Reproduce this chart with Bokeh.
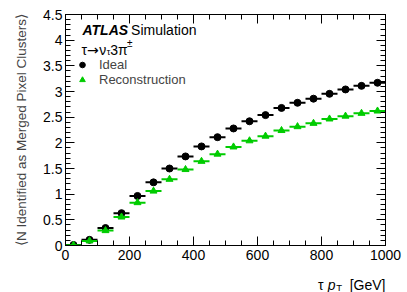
import numpy as np
from bokeh.plotting import figure
from bokeh.layouts import column
from bokeh.models import (Range1d, FixedTicker, LinearAxis, Label, Legend, LegendItem,
                          ColumnDataSource, CustomLabelingPolicy)
from bokeh.embed import file_html
from bokeh.resources import INLINE

# ---- data ----
pt_centers = [25, 75, 125, 175, 225, 275, 325, 375, 425, 475,
              525, 575, 625, 675, 725, 775, 825, 875, 925, 975]
bin_half_width = 25
ideal = [0.01, 0.11, 0.34, 0.63, 0.965, 1.23, 1.50, 1.735, 1.93, 2.11,
         2.28, 2.42, 2.54, 2.68, 2.78, 2.86, 2.955, 3.04, 3.11, 3.17]
reco = [0.005, 0.09, 0.29, 0.555, 0.835, 1.06, 1.29, 1.48, 1.64, 1.78,
        1.92, 2.04, 2.13, 2.24, 2.315, 2.38, 2.465, 2.52, 2.575, 2.62]
x_major = [0, 200, 400, 600, 800, 1000]
y_major = [0, 0.5, 1, 1.5, 2, 2.5, 3, 3.5, 4, 4.5]
y_labels = ["0", "0.5", "1", "1.5", "2", "2.5", "3", "3.5", "4", "4.5"]

FONT = "Liberation Sans"
GREEN = "#00cc00"

x = np.array(pt_centers, dtype=float)
src = ColumnDataSource(dict(x=x, lo=x - bin_half_width, hi=x + bin_half_width,
                            ideal=ideal, reco=reco))

xr = Range1d(0, 1000)
p = figure(width=407, height=268, output_backend="svg", toolbar_location=None,
           x_range=xr, y_range=Range1d(0, 4.5),
           min_border_left=65, min_border_right=20, min_border_top=14, min_border_bottom=23,
           x_axis_location=None, y_axis_location=None)
p.xgrid.visible = False
p.ygrid.visible = False
p.outline_line_color = "black"
p.outline_line_width = 1
p.background_fill_color = "white"
p.border_fill_color = "white"

x_minor = list(range(0, 1001, 50))
y_minor = [round(v * 0.1, 2) for v in range(0, 46)]
xt = FixedTicker(ticks=x_major, minor_ticks=x_minor)
yt = FixedTicker(ticks=y_major, minor_ticks=y_minor)


def style(ax, labels=True):
    ax.major_tick_in = 9
    ax.major_tick_out = 0
    ax.minor_tick_in = 5
    ax.minor_tick_out = 0
    ax.axis_line_color = "black"
    ax.major_tick_line_color = "black"
    ax.minor_tick_line_color = "black"
    ax.major_label_text_font = FONT
    ax.major_label_text_font_size = "14px"
    ax.major_label_text_color = "black"
    if not labels:
        ax.major_label_policy = CustomLabelingPolicy(code="return new Set()")
        ax.major_label_standoff = 0


xb = LinearAxis(ticker=xt)
style(xb)
xb.major_label_standoff = 4
p.add_layout(xb, "below")

xa = LinearAxis(ticker=xt)
style(xa, labels=False)
p.add_layout(xa, "above")

yl = LinearAxis(ticker=yt)
style(yl)
yl.major_label_standoff = 3
yl.major_label_overrides = {v: s for v, s in zip(y_major, y_labels)}
yl.axis_label = "\u27e8N Identified as Merged Pixel Clusters\u27e9"
yl.axis_label_text_font = FONT
yl.axis_label_text_font_size = "13.5px"
yl.axis_label_text_font_style = "normal"
yl.axis_label_standoff = 11
p.add_layout(yl, "left")

yr = LinearAxis(ticker=yt)
style(yr, labels=False)
p.add_layout(yr, "right")

# ---- data marks ----
p.segment(x0="lo", x1="hi", y0="ideal", y1="ideal", source=src,
          line_color="black", line_width=2)
r_ideal = p.scatter(x="x", y="ideal", source=src, marker="circle", size=7,
                    fill_color="black", line_color="black")
p.segment(x0="lo", x1="hi", y0="reco", y1="reco", source=src,
          line_color=GREEN, line_width=2)
r_reco = p.scatter(x="x", y="reco", source=src, marker="triangle", size=7,
                   fill_color=GREEN, line_color=GREEN)

legend = Legend(items=[LegendItem(label="Ideal", renderers=[r_ideal]),
                       LegendItem(label="Reconstruction", renderers=[r_reco])],
                location=(10, 158), padding=0, margin=0, spacing=0,
                glyph_width=14, glyph_height=15, label_standoff=10,
                label_text_font=FONT, label_text_font_size="13px",
                label_height=15,
                background_fill_alpha=0, border_line_alpha=0)
p.add_layout(legend)

# ---- texts ----
def lab(fig, xv, yv, t, size="14px", style="normal", align="left", font=FONT):
    fig.add_layout(Label(x=xv, y=yv, text=t, text_font=font, text_font_size=size,
                         text_font_style=style, text_align=align, level="overlay",
                         text_baseline="alphabetic", text_color="black"))

lab(p, 53, 4.19, "ATLAS", style="bold italic")
lab(p, 205, 4.19, "Simulation")
lab(p, 49.7, 3.818, "\u03c4")
lab(p, 67.4, 3.818, "\u2192", font="DejaVu Sans")
lab(p, 105.6, 3.818, "\u03bd")
lab(p, 129, 3.76, "\u03c4", size="9px")
lab(p, 140, 3.818, "3\u03c0")
lab(p, 192, 3.935, "\u00b1", size="10px")

# ---- x axis title strip (same horizontal frame as the plot) ----
p2 = figure(width=407, height=24, output_backend="svg", toolbar_location=None,
            x_range=xr, y_range=Range1d(0, 24),
            min_border_left=65, min_border_right=20, min_border_top=0, min_border_bottom=0,
            x_axis_location=None, y_axis_location=None)
p2.xgrid.visible = False
p2.ygrid.visible = False
p2.outline_line_color = None
p2.background_fill_color = "white"
p2.border_fill_color = "white"

lab(p2, 1000, 8, "[GeV]", align="right")
lab(p2, 864, 5.5, "T", size="9.5px", align="right")
lab(p2, 844, 8, "p", style="italic", align="right")
lab(p2, 806, 8, "\u03c4", align="right")

layout = column(p, p2, spacing=0)
open("out.html", "w").write(file_html(layout, INLINE))
